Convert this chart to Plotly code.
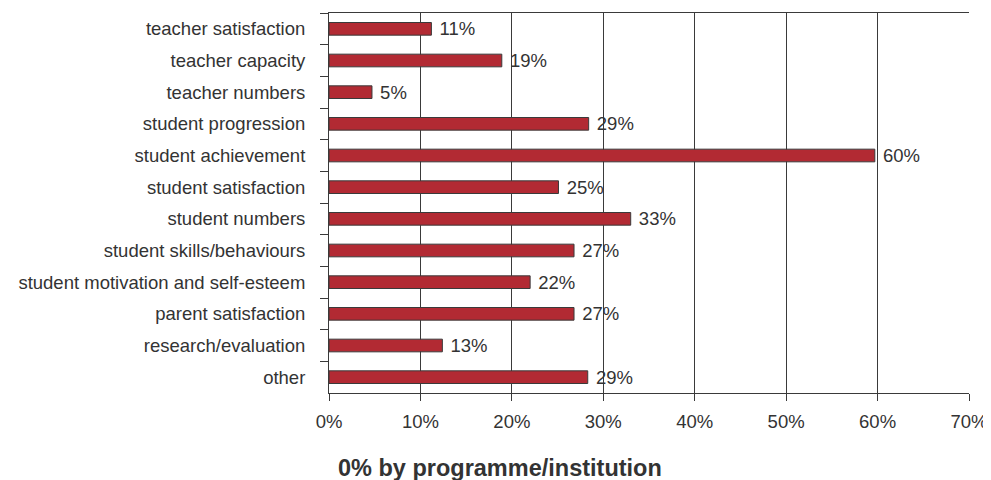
import plotly.graph_objects as go

FONT = 'Liberation Sans, Arial, sans-serif'
TEXT_COLOR = '#333333'
LINE_COLOR = '#3a3a3a'
BAR_COLOR = '#B22A33'

# DATA:
categories = [
    'teacher satisfaction', 'teacher capacity', 'teacher numbers',
    'student progression', 'student achievement', 'student satisfaction',
    'student numbers', 'student skills/behaviours',
    'student motivation and self-esteem', 'parent satisfaction',
    'research/evaluation', 'other'
]
values = [11.2, 18.9, 4.7, 28.4, 59.7, 25.1, 33.0, 26.8, 22.0, 26.8, 12.4, 28.3]
value_labels = ['11%', '19%', '5%', '29%', '60%', '25%', '33%', '27%', '22%', '27%', '13%', '29%']

# PLOT:
fig = go.Figure(go.Bar(
    x=values,
    y=categories,
    orientation='h',
    width=0.4,
    marker=dict(color=BAR_COLOR, line=dict(color=LINE_COLOR, width=1)),
    text=[' ' + t for t in value_labels],
    textposition='outside',
    constraintext='none',
    cliponaxis=False,
    textfont=dict(family=FONT, size=18.5, color=TEXT_COLOR),
    hoverinfo='none'
))

# the page body sits 8px in from the window corner
fig.update_layout(
    width=991,
    height=472,
    plot_bgcolor='white',
    paper_bgcolor='white',
    showlegend=False,
    margin=dict(l=321, r=30, t=5, b=87, pad=0, autoexpand=False),
    font=dict(family=FONT, size=18.5, color=TEXT_COLOR),
    xaxis=dict(
        range=[0, 70],
        dtick=10,
        ticksuffix='%',
        showgrid=True,
        gridcolor=LINE_COLOR,
        gridwidth=1,
        zeroline=False,
        showline=True,
        linecolor=LINE_COLOR,
        linewidth=1,
        mirror=True,
        ticks='outside',
        ticklen=7,
        tickcolor=LINE_COLOR,
        ticklabelstandoff=5,
        tickfont=dict(size=18.5, color=TEXT_COLOR),
        automargin=False,
        fixedrange=True
    ),
    yaxis=dict(
        autorange='reversed',
        showgrid=False,
        zeroline=False,
        showline=True,
        linecolor=LINE_COLOR,
        linewidth=1,
        ticks='outside',
        tickson='boundaries',
        ticklen=8,
        tickcolor=LINE_COLOR,
        ticklabelstandoff=19,
        tickfont=dict(size=18.5, color=TEXT_COLOR),
        automargin=False,
        fixedrange=True
    ),
    annotations=[dict(
        text='<b>0% by programme/institution</b>',
        font=dict(family=FONT, size=23.5, color=TEXT_COLOR),
        xref='paper', x=(492 - 321) / 640, xanchor='center',
        yref='paper', y=-75 / 380, yanchor='middle',
        showarrow=False
    )]
)

fig.write_html('out.html')
